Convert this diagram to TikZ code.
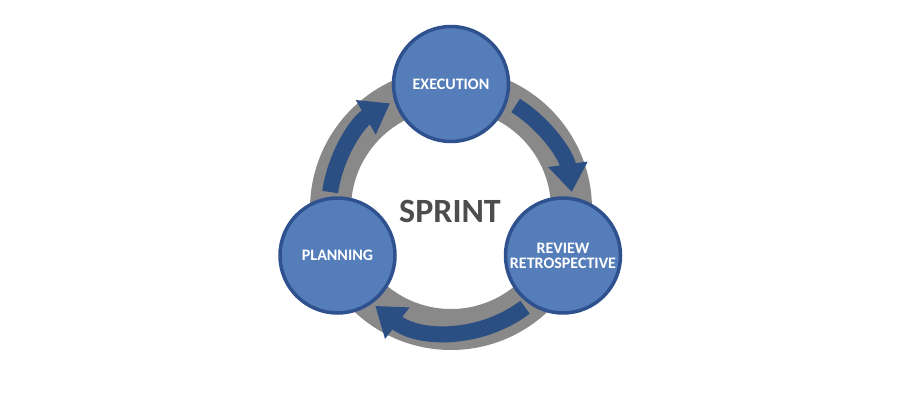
\documentclass[tikz,border=0pt]{standalone}
\usepackage{fontspec}
\setmainfont{Carlito}
\usetikzlibrary{arrows.meta,calc}
\definecolor{ringgray}{RGB}{137,137,137}
\definecolor{cfill}{RGB}{84,125,186}
\definecolor{cborder}{RGB}{47,82,143}
\definecolor{arrowblue}{RGB}{43,79,130}
\definecolor{titlegray}{RGB}{77,77,77}
\tikzset{
  phase/.style={circle, fill=cfill, draw=cborder, line width=3.5pt, minimum size=115pt, inner sep=0pt,
    text=white, font=\fontsize{16}{17}\selectfont\bfseries, align=center},
  cyclearrow/.style={draw=arrowblue, line width=16pt, -{Triangle[length=28pt,width=38pt]}},
}
\begin{document}
\begin{tikzpicture}[x=1pt,y=1pt]
\useasboundingbox (0,0) rectangle (900,400);
\coordinate (c) at (451,191);
\draw[ringgray, line width=41pt] (c) circle[radius=120.5pt];
\draw[cyclearrow] ($(c)+(172:122pt)$) arc[start angle=172, end angle=120, radius=122pt];
\draw[cyclearrow] ($(c)+(58:122pt)$) arc[start angle=58, end angle=8, radius=122pt];
\draw[cyclearrow] ($(c)+(-53:123pt)$) arc[start angle=-53, end angle=-128, radius=123pt];
\node[phase] (exec) at (451,316) {EXECUTION};
\node[phase] (plan) at (337.5,144.5) {PLANNING};
\node[phase] (rev) at (563,144.5) {REVIEW\\[-2pt]RETROSPECTIVE};
\node[text=titlegray, font=\fontsize{34}{36}\selectfont\bfseries] (sprint) at (450,189) {SPRINT};
\end{tikzpicture}
\end{document}
